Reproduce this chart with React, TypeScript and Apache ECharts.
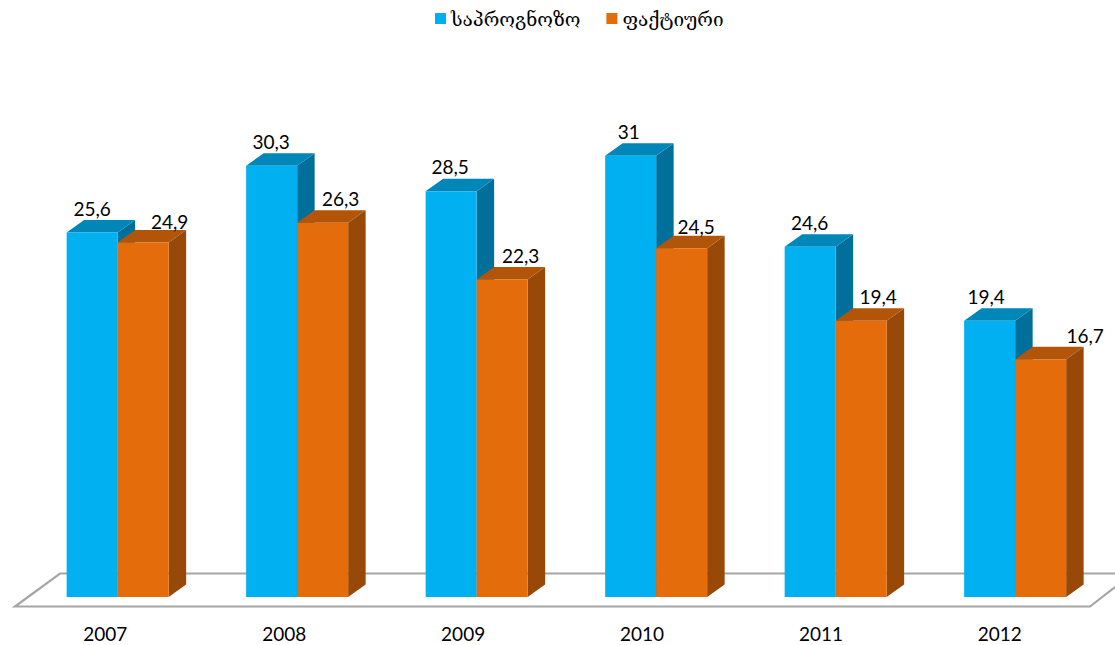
import React, { useEffect, useRef } from "react";
import * as echarts from "echarts";

const years = ["2007", "2008", "2009", "2010", "2011", "2012"];
const forecast = [25.6, 30.3, 28.5, 31, 24.6, 19.4];
const actual = [24.9, 26.3, 22.3, 24.5, 19.4, 16.7];
const forecastName = "საპროგნოზო";
const actualName = "ფაქტიური";

const forecastColors = { front: "#00b0f0", top: "#0086b8", side: "#00709a" };
const actualColors = { front: "#e46c0a", top: "#b35508", side: "#984807" };

const FONT = "Lato, 'Open Sans', sans-serif";
const BAR_W = 51;
const DX = 17.5;
const DY = 12.5;
const PAIR_SHIFT = 12.3;
const PAIR_DRIFT = 0.6;

const forecastLabelShift = [[0, 0], [-0.5, 0], [-1, 0], [-2, 0], [-0.5, 0], [-3.5, 0]];
const actualLabelShift = [[26.5, 3.5], [18, 0.5], [18.5, 0.5], [14.5, 2.5], [17, 0.5], [44.5, 0.5]];

function bar3d(colors: any, side: number, shifts: number[][]) {
  return (params: any, api: any) => {
    const i = api.value(0);
    const v = api.value(1);
    const top = api.coord([i, v]);
    const base = api.coord([i, 0]);
    const cx = top[0] + PAIR_SHIFT + i * PAIR_DRIFT;
    const x0 = side < 0 ? cx - BAR_W : cx;
    const x1 = x0 + BAR_W;
    const y0 = top[1];
    const y1 = base[1];
    const poly = (points: number[][], fill: string) => ({
      type: "polygon",
      shape: { points },
      style: { fill, stroke: null },
    });
    return {
      type: "group",
      children: [
        poly([[x1, y1], [x1 + DX, y1 - DY], [x1 + DX, y0 - DY], [x1, y0]], colors.side),
        poly([[x0, y0], [x0 + DX, y0 - DY], [x1 + DX, y0 - DY], [x1, y0]], colors.top),
        poly([[x0, y0], [x1, y0], [x1, y1], [x0, y1]], colors.front),
        {
          type: "text",
          z2: 10,
          style: {
            text: String(v).replace(".", ","),
            x: (x0 + x1) / 2 + shifts[i][0],
            y: y0 - 24.5 + shifts[i][1],
            align: "center",
            verticalAlign: "middle",
            fill: "#000",
            font: `19px ${FONT}`,
          },
        },
      ],
    };
  };
}

export default function App() {
  const ref = useRef<HTMLDivElement>(null);
  useEffect(() => {
    const chart = echarts.init(ref.current!, null, { renderer: "svg" });
    chart.setOption({
      animation: false,
      backgroundColor: "#fff",
      legend: {
        left: 430,
        top: 4,
        itemWidth: 11,
        itemHeight: 11,
        itemGap: 26,
        icon: "rect",
        data: [forecastName, actualName],
        textStyle: { fontSize: 19, color: "#000", fontFamily: "'DejaVu Serif', 'DejaVu Sans', serif" },
      },
      grid: { left: 15.9, width: 1073.4, top: 98.8, bottom: 48 },
      xAxis: {
        type: "category",
        data: years,
        axisLine: { show: false },
        axisTick: { show: false },
        axisLabel: { fontSize: 19, color: "#000", margin: 27, fontFamily: FONT },
      },
      yAxis: { type: "value", min: 0, max: 35, show: false },
      graphic: [
        {
          type: "polyline",
          z: 0,
          shape: { points: [[1115, 573.5], [60, 573.5], [15, 606.5], [1090, 606.5], [1115, 587]] },
          style: { fill: "none", stroke: "#a6a6a6", lineWidth: 2.2 },
        },
      ],
      series: [
        {
          type: "custom",
          name: forecastName,
          z: 3,
          clip: false,
          itemStyle: { color: forecastColors.front },
          encode: { x: 0, y: 1 },
          data: forecast.map((v, i) => [i, v]),
          renderItem: bar3d(forecastColors, -1, forecastLabelShift),
        },
        {
          type: "custom",
          name: actualName,
          z: 4,
          clip: false,
          itemStyle: { color: actualColors.front },
          encode: { x: 0, y: 1 },
          data: actual.map((v, i) => [i, v]),
          renderItem: bar3d(actualColors, 1, actualLabelShift),
        },
      ],
    });
    return () => chart.dispose();
  }, []);
  return <div ref={ref} style={{ position: "absolute", left: 0, top: 0, width: 1115, height: 645 }} />;
}
